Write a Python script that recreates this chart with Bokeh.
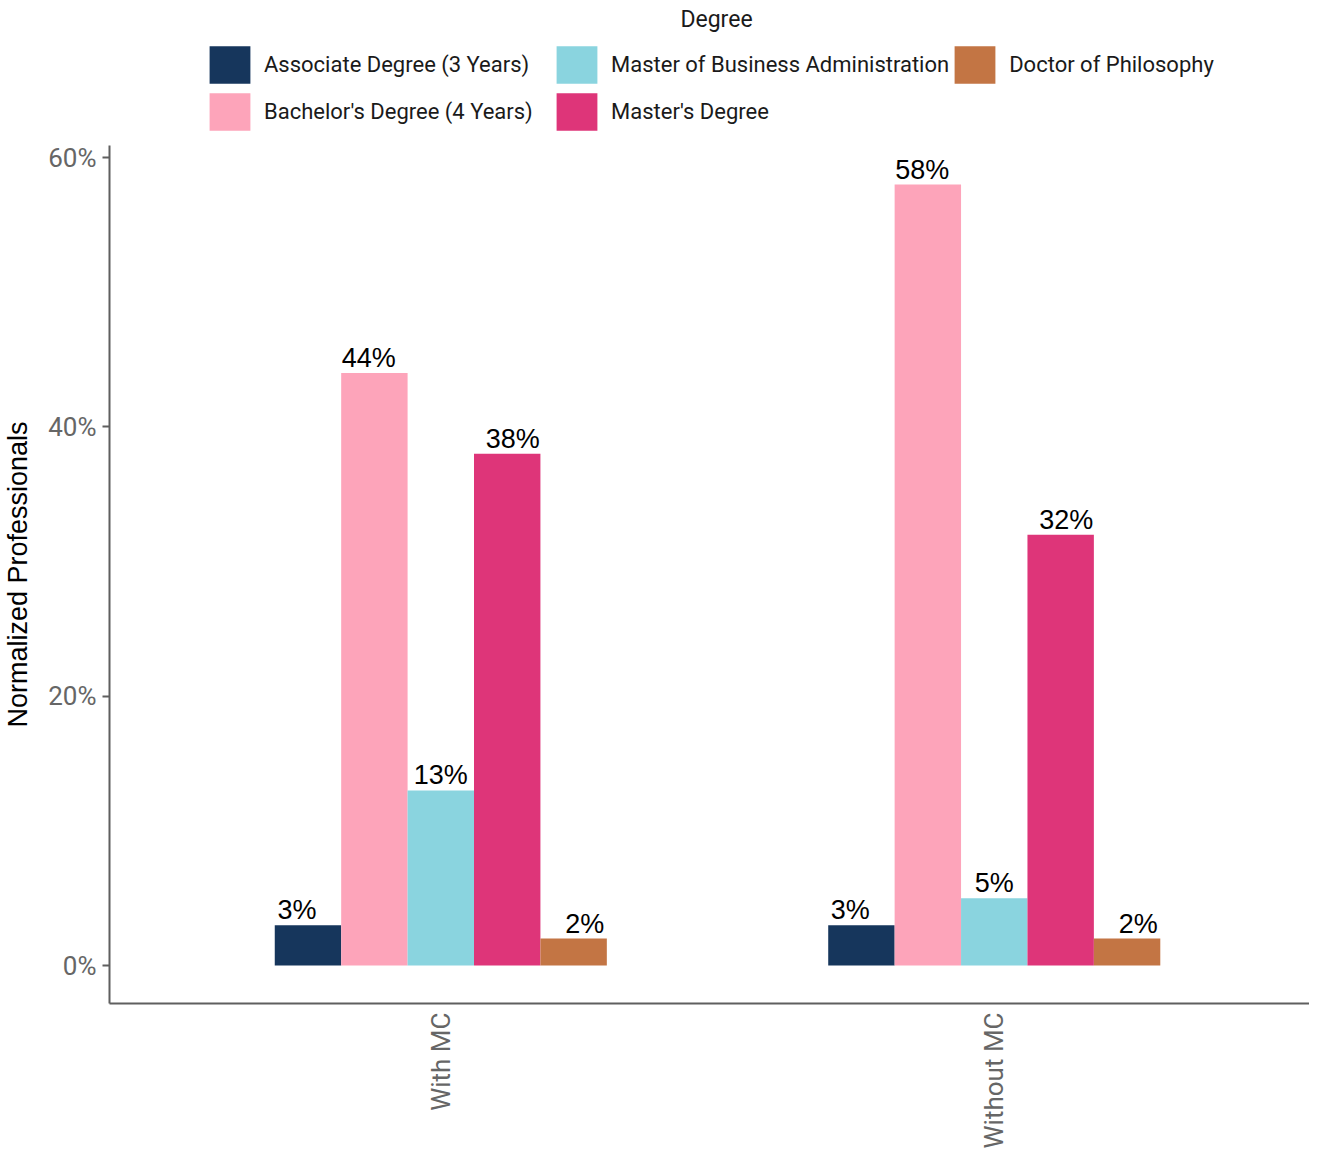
import math
from bokeh.plotting import figure
from bokeh.layouts import column
from bokeh.models import Legend, LegendItem, Range1d, PrintfTickFormatter, ColumnDataSource, Label
from bokeh.transform import dodge
from bokeh.core.properties import value
from bokeh.embed import file_html
from bokeh.resources import INLINE

categories = ["With MC", "Without MC"]
degrees = ["Associate Degree (3 Years)", "Bachelor's Degree (4 Years)",
           "Master of Business Administration", "Master's Degree", "Doctor of Philosophy"]
associate = [3, 3]
bachelor = [44, 58]
mba = [13, 5]
masters = [38, 32]
phd = [2, 2]
series = [associate, bachelor, mba, masters, phd]
colors = ["#16365C", "#FDA4BA", "#8AD4DF", "#DE3579", "#C37544"]
y_ticks = [0, 20, 40, 60]

cat_pos = [i + 1 for i in range(len(categories))]

# ---------- main plot ----------
p = figure(x_range=Range1d(0.4014, 2.5696), y_range=Range1d(-2.82, 60.9),
           width=1309, height=1014, output_backend="svg", toolbar_location=None,
           min_border_left=102, min_border_right=0, min_border_top=8, min_border_bottom=148)

bar_w = 0.12
label_step = 0.13
sources = []
for i, (name, vals, col) in enumerate(zip(degrees, series, colors)):
    src = ColumnDataSource(dict(x=cat_pos, val=vals, lab=[f"{v}%" for v in vals]))
    sources.append(src)
    p.vbar(x=dodge("x", (i - 2) * bar_w), top="val", bottom=0,
           width=bar_w, source=src, fill_color=col, line_color=None)
    p.text(x=dodge("x", (i - 2) * label_step), y="val", text="lab", source=src,
           text_align="center", text_baseline="bottom", y_offset=0,
           text_font=value("Liberation Sans"), text_font_size="27px", text_color="black")

p.xgrid.visible = False
p.ygrid.visible = False
p.outline_line_color = None

axcol = "#5f5f5f"
p.yaxis.ticker = y_ticks
p.yaxis.formatter = PrintfTickFormatter(format="%d%%")
p.yaxis.minor_tick_line_color = None
p.yaxis.major_tick_in = 0
p.yaxis.major_tick_out = 7
p.yaxis.major_label_standoff = 6
p.yaxis.axis_line_color = axcol
p.yaxis.axis_line_width = 2
p.yaxis.major_tick_line_color = axcol
p.yaxis.major_tick_line_width = 2
p.yaxis.major_label_text_font = "Roboto"
p.yaxis.major_label_text_font_size = "26px"
p.yaxis.major_label_text_color = "#666666"
p.yaxis.axis_label = "Normalized Professionals"
p.yaxis.axis_label_text_font = "Liberation Sans"
p.yaxis.axis_label_text_font_size = "27px"
p.yaxis.axis_label_text_font_style = "normal"
p.yaxis.axis_label_text_color = "black"
p.yaxis.axis_label_standoff = 12

p.xaxis.ticker = cat_pos
p.xaxis.major_label_overrides = {pos: c for pos, c in zip(cat_pos, categories)}
p.xaxis.minor_tick_line_color = None
p.xaxis.major_tick_in = 0
p.xaxis.major_tick_out = 0
p.xaxis.major_tick_line_color = None
p.xaxis.axis_line_color = axcol
p.xaxis.axis_line_width = 2
p.xaxis.major_label_orientation = math.pi / 2
p.xaxis.major_label_standoff = 9
p.xaxis.major_label_text_font = "Roboto"
p.xaxis.major_label_text_font_size = "26px"
p.xaxis.major_label_text_color = "#666666"

# ---------- legend strip above (frame is aligned with the main plot's frame) ----------
leg = figure(x_range=Range1d(0.4014, 2.5696), y_range=Range1d(0, 1), width=1309, height=137,
             output_backend="svg", toolbar_location=None,
             min_border_left=102, min_border_right=0, min_border_top=0, min_border_bottom=0)
leg.axis.visible = False
leg.grid.visible = False
leg.outline_line_color = None
swatches = []
for i, (name, col, src) in enumerate(zip(degrees, colors, sources)):
    # hidden copy of each series: only used to draw its legend swatch
    sw = leg.vbar(x=dodge("x", (i - 2) * bar_w), top="val", bottom=0, width=bar_w, source=src,
                  fill_color=col, line_color=None, visible=False)
    swatches.append(LegendItem(label=name, renderers=[sw]))

legend_order = [0, 2, 4, 1, 3]  # column-major: 2 rows x 3 columns
legend = Legend(items=[swatches[k] for k in legend_order], orientation="horizontal", ncols=3,
                location=(95, 2),
                glyph_width=51, glyph_height=47, label_standoff=9, spacing=0, padding=0,
                margin=0, label_width=287, border_line_color=None, background_fill_alpha=0,
                label_text_font="Roboto", label_text_font_size="22px",
                label_text_color="#1a1a1a")
leg.add_layout(legend)
leg.add_layout(Label(x=607, y=118, x_units="screen", y_units="screen", text="Degree",
                     text_align="center", text_baseline="middle", text_font="Roboto",
                     text_font_size="23px", text_color="#1a1a1a"))

open("out.html", "w").write(file_html(column(leg, p, spacing=0), INLINE))
